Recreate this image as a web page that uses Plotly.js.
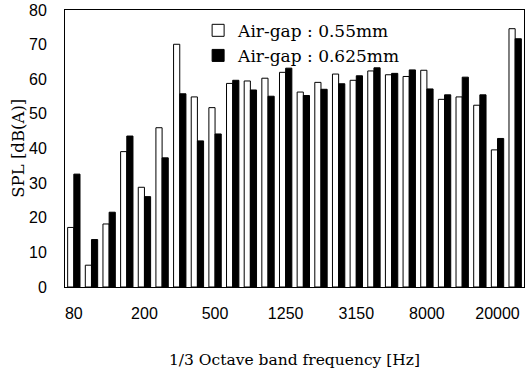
<!DOCTYPE html>
<html>
<head>
<meta charset="utf-8">
<script src="https://cdn.plot.ly/plotly-3.0.1.min.js"></script>
<style>html,body{margin:0;padding:0;background:#fff;}#chart{width:526px;height:376px;}</style>
</head>
<body>
<div id="chart"></div>
<script>
const bands = ["80","100","125","160","200","250","315","400","500","630","800","1000","1250","1600","2000","2500","3150","4000","5000","6300","8000","10000","12500","16000","20000","OA"];
const tickBands = ["80","200","500","1250","3150","8000","20000"];
const gap055 = [17.2,6.3,18.2,39.1,28.8,46.0,70.1,54.9,51.8,58.8,59.5,60.3,62.0,56.3,59.1,61.5,59.7,62.4,61.3,60.8,62.6,54.2,54.9,52.5,39.6,74.6];
const gap0625 = [32.6,13.7,21.6,43.6,26.1,37.3,55.8,42.2,44.2,59.7,56.9,55.1,63.2,55.3,57.1,58.7,61.0,63.3,61.7,62.7,57.2,55.5,60.6,55.5,42.9,71.7];

const traces = [
  {type:'bar', x:bands, y:gap055, name:'Air-gap : 0.55mm',
   marker:{color:'#ffffff', line:{color:'#000', width:1}}},
  {type:'bar', x:bands, y:gap0625, name:'Air-gap : 0.625mm',
   marker:{color:'#000000', line:{color:'#000', width:1}}}
];
const layout = {
  width:526, height:376,
  margin:{l:65, r:2, t:10, b:89},
  paper_bgcolor:'#fff', plot_bgcolor:'#fff',
  barmode:'group', bargap:0.3, bargroupgap:0,
  showlegend:true,
  legend:{x:0.29, y:0.99, xanchor:'left', yanchor:'top', bgcolor:'rgba(0,0,0,0)',
          font:{family:'DejaVu Serif, serif', size:17, color:'#000'}, tracegroupgap:0, itemwidth:30},
  xaxis:{type:'category', tickmode:'array', tickvals:tickBands, ticktext:tickBands,
         showgrid:false, zeroline:false, showline:true, linecolor:'#000', linewidth:1, mirror:true,
         ticks:'', ticklabelstandoff:12,
         tickfont:{family:'Liberation Sans, Arial, sans-serif', size:16, color:'#000'},
         title:{text:'1/3 Octave band frequency [Hz]', standoff:32,
                font:{family:'DejaVu Serif, serif', size:15.5, color:'#000'}}},
  yaxis:{range:[0,80], dtick:10, showgrid:false, zeroline:false, showline:true, linecolor:'#000', linewidth:1, mirror:true,
         ticks:'', ticklabelstandoff:14,
         tickfont:{family:'Liberation Sans, Arial, sans-serif', size:16, color:'#000'}},
  annotations:[{text:'SPL [dB(A)]', xref:'paper', yref:'paper', x:-0.102, y:0.5,
                xanchor:'center', yanchor:'middle', textangle:-90, showarrow:false,
                font:{family:'DejaVu Serif, serif', size:16.5, color:'#000'}}]
};
Plotly.newPlot('chart', traces, layout, {displayModeBar:false, staticPlot:true});
</script>
</body>
</html>
